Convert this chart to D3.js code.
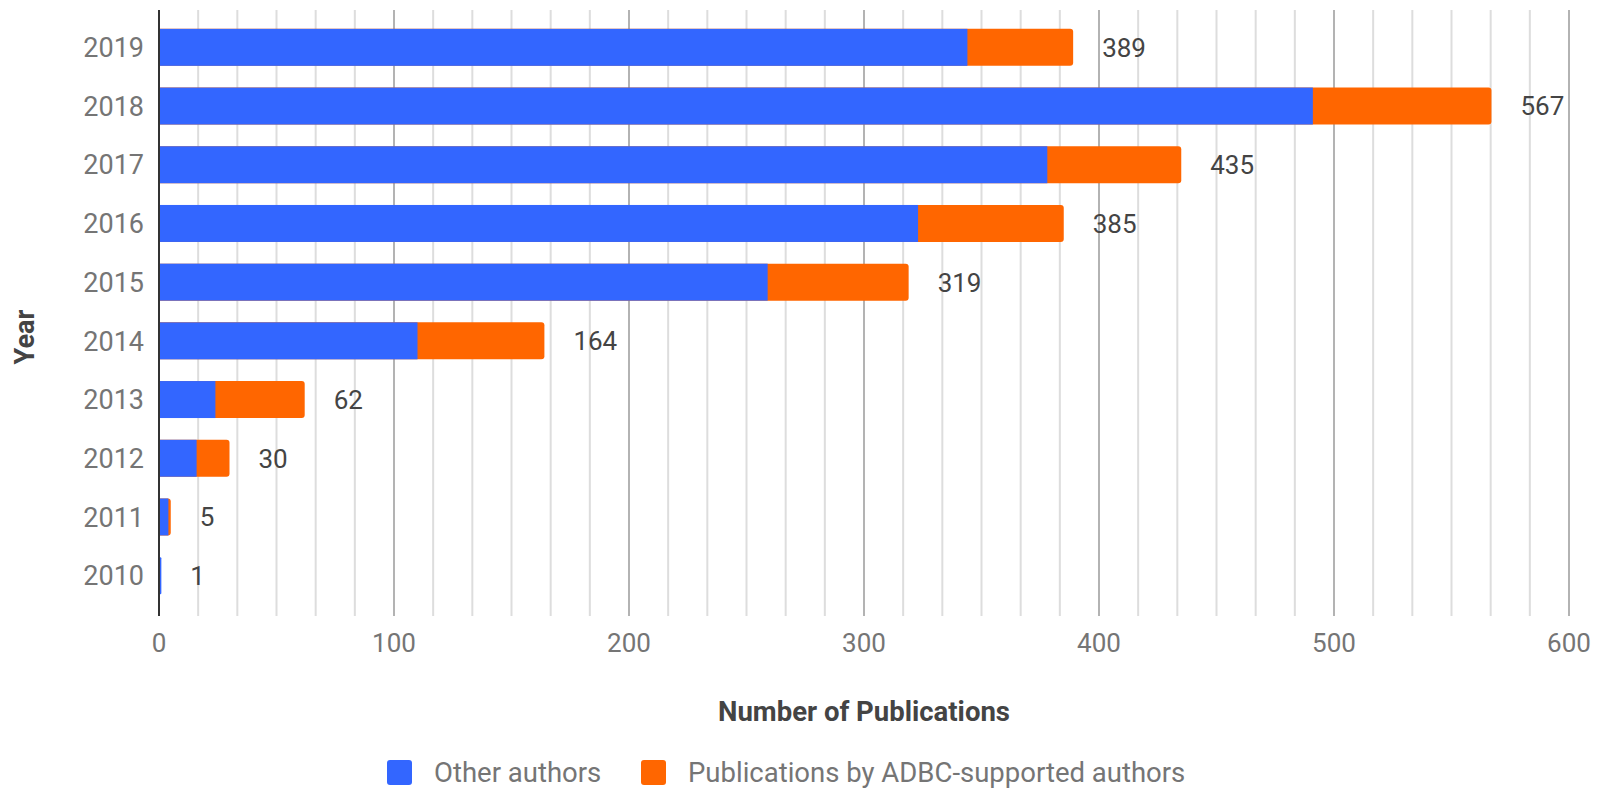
<!DOCTYPE html>
<html>
<head>
<meta charset="utf-8">
<script src="https://cdn.jsdelivr.net/npm/d3@7"></script>
<style>
  body { margin: 0; background: #fff; }
  text { font-family: Roboto, "Open Sans", sans-serif; }
</style>
</head>
<body>
<div class="chart"></div>
<script>
// Data
var years = ["2019", "2018", "2017", "2016", "2015", "2014", "2013", "2012", "2011", "2010"]
var otherAuthors = [344, 491, 378, 323, 259, 110, 24, 16, 4, 1]
var totals = [389, 567, 435, 385, 319, 164, 62, 30, 5, 1]
var xTicks = [0, 100, 200, 300, 400, 500, 600]
var seriesNames = ["Other authors", "Publications by ADBC-supported authors"]
var colors = ["#3366ff", "#ff6600"]

var W = 1607, H = 790

var svg = d3.select(".chart")
    .append("svg")
    .attr("width", W)
    .attr("height", H)

var x = d3.scaleLinear()
    .domain([0, 600])
    .range([159, 1569])

var y = d3.scaleBand()
    .domain(years)
    .range([18, 605])
    .paddingInner(0.37)
    .paddingOuter(0.185)

var gridTop = 10, gridBottom = 616

// minor gridlines, 5 between each major
var minor = []
for (var i = 0; i < 36; i++) { if (i % 6 != 0) minor.push(i * 100 / 6) }

svg.append("g")
    .selectAll("line")
    .data(minor)
    .join("line")
    .attr("x1", d => x(d)).attr("x2", d => x(d))
    .attr("y1", gridTop).attr("y2", gridBottom)
    .attr("stroke", "#dddddd")
    .attr("stroke-width", 2)

svg.append("g")
    .selectAll("line")
    .data(xTicks.slice(1))
    .join("line")
    .attr("x1", d => x(d)).attr("x2", d => x(d))
    .attr("y1", gridTop).attr("y2", gridBottom)
    .attr("stroke", "#b3b3b3")
    .attr("stroke-width", 2)

// rect with rounded right end only
function barPath(x0, x1, y0, h, r) {
    r = Math.min(r, (x1 - x0) / 2)
    return "M" + x0 + "," + y0 +
        "H" + (x1 - r) +
        "Q" + x1 + "," + y0 + " " + x1 + "," + (y0 + r) +
        "V" + (y0 + h - r) +
        "Q" + x1 + "," + (y0 + h) + " " + (x1 - r) + "," + (y0 + h) +
        "H" + x0 + "Z"
}

var rows = years.map(function (yr, i) {
    return { year: yr, other: otherAuthors[i], total: totals[i] }
})

var bars = svg.append("g")
    .selectAll("g")
    .data(rows)
    .join("g")

bars.append("path")
    .attr("d", d => barPath(x(0), x(d.total), y(d.year), y.bandwidth(), 3))
    .attr("fill", d => d.total > d.other ? colors[1] : colors[0])

bars.append("rect")
    .attr("x", x(0))
    .attr("y", d => y(d.year))
    .attr("width", d => d.total > d.other ? x(d.other) - x(0) : 0)
    .attr("height", y.bandwidth())
    .attr("fill", colors[0])

// value labels
bars.append("text")
    .attr("x", d => x(d.total) + 29)
    .attr("y", d => y(d.year) + y.bandwidth() / 2)
    .attr("dy", "0.36em")
    .style("font-size", "26px")
    .attr("fill", "#444444")
    .text(d => d.total)

// zero baseline
svg.append("line")
    .attr("x1", x(0)).attr("x2", x(0))
    .attr("y1", gridTop).attr("y2", gridBottom)
    .attr("stroke", "#333333")
    .attr("stroke-width", 2)

// year labels
svg.append("g")
    .selectAll("text")
    .data(years)
    .join("text")
    .attr("x", 144)
    .attr("y", d => y(d) + y.bandwidth() / 2)
    .attr("dy", "0.36em")
    .attr("text-anchor", "end")
    .style("font-size", "27px")
    .attr("fill", "#757575")
    .text(d => d)

// x tick labels
svg.append("g")
    .selectAll("text")
    .data(xTicks)
    .join("text")
    .attr("x", d => x(d))
    .attr("y", 652)
    .attr("text-anchor", "middle")
    .style("font-size", "26px")
    .attr("fill", "#757575")
    .text(d => d)

// axis titles
svg.append("text")
    .attr("x", (x(0) + x(600)) / 2)
    .attr("y", 721)
    .attr("text-anchor", "middle")
    .style("font-size", "27.5px")
    .style("font-weight", "bold")
    .attr("fill", "#444444")
    .text("Number of Publications")

svg.append("text")
    .attr("transform", "translate(34,337) rotate(-90)")
    .attr("text-anchor", "middle")
    .style("font-size", "27px")
    .style("font-weight", "bold")
    .attr("fill", "#444444")
    .text("Year")

// legend
var legendX = [387, 641]
var legend = svg.append("g")
    .selectAll("g")
    .data(seriesNames)
    .join("g")
    .attr("transform", (d, i) => "translate(" + legendX[i] + ",760)")

legend.append("rect")
    .attr("width", 25)
    .attr("height", 25)
    .attr("rx", 3)
    .attr("fill", (d, i) => colors[i])

legend.append("text")
    .attr("x", 47)
    .attr("y", 12.5)
    .attr("dy", "0.36em")
    .style("font-size", "27.5px")
    .attr("fill", "#757575")
    .text(d => d)
</script>
</body>
</html>
